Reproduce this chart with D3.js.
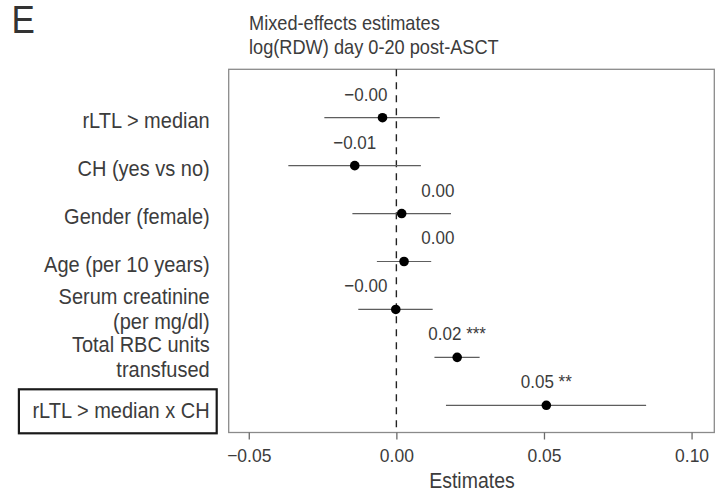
<!DOCTYPE html>
<html>
<head>
<meta charset="utf-8">
<script src="https://cdn.jsdelivr.net/npm/d3@7"></script>
<style>
  html, body { margin: 0; padding: 0; background: #fff; }
  svg text { font-family: "Liberation Sans", Arial, Helvetica, sans-serif; fill: #3c3c3c; }
</style>
</head>
<body>
<svg id="chart" width="719" height="497"></svg>
<script>
// Model terms (top to bottom), estimates with 95% CI, significance stars
const terms = [
  "rLTL > median",
  "CH (yes vs no)",
  "Gender (female)",
  "Age (per 10 years)",
  "Serum creatinine\n(per mg/dl)",
  "Total RBC units\ntransfused",
  "rLTL > median x CH"
];
const estimates = [-0.0047, -0.0141, 0.0018, 0.0026, -0.0002, 0.0206, 0.0508];
const ciLow     = [-0.0244, -0.0366, -0.0149, -0.0066, -0.0129, 0.0129, 0.0168];
const ciHigh    = [ 0.0147,  0.0083,  0.0185,  0.0118,  0.0123, 0.0282, 0.0846];
const stars     = ["", "", "", "", "", "***", "**"];
const boxed     = [false, false, false, false, false, false, true];
const xTicks    = [-0.05, 0.00, 0.05, 0.10];
const titleLines = ["Mixed-effects estimates", "log(RDW) day 0-20 post-ASCT"];

const svg = d3.select("#chart");
const panel = { left: 228.7, right: 714.3, top: 69.3, bottom: 432.5 };
const TEXT_STRETCH = 1.1; // glyphs drawn slightly taller than wide

const x = d3.scaleLinear().domain([-0.0568, 0.1077]).range([panel.left, panel.right]);
const y = d3.scalePoint().domain(terms).range([117.7, 405.3]);

const fmt = v => v.toFixed(2).replace("-", "\u2212");

// Panel letter
svg.append("text").attr("x", 11.5).attr("y", 33)
  .style("font-size", "35px").style("fill", "#333").text("E");

// Title
svg.append("g").selectAll("text").data(titleLines).join("text")
  .attr("x", 249).attr("y", (d, i) => 30.5 + i * 23.5)
  .style("font-size", "18.2px").text(d => d);

// Panel border
svg.append("rect")
  .attr("x", panel.left).attr("y", panel.top)
  .attr("width", panel.right - panel.left).attr("height", panel.bottom - panel.top)
  .attr("fill", "none").attr("stroke", "#8a8a8a").attr("stroke-width", 1.3);

// x axis
const xAxis = svg.append("g").attr("transform", `translate(0,${panel.bottom})`)
  .call(d3.axisBottom(x).tickValues(xTicks).tickFormat(fmt).tickSize(7).tickPadding(10));
xAxis.select(".domain").remove();
xAxis.selectAll(".tick line").attr("stroke", "#6a6a6a").attr("stroke-width", 1.3);
xAxis.selectAll(".tick text").style("font-size", "17.5px")
  .style("font-family", "'Liberation Sans', Arial, sans-serif").attr("fill", "#3c3c3c");

svg.append("text").attr("x", (panel.left + panel.right) / 2 + 0.5).attr("y", 488.3)
  .attr("text-anchor", "middle").style("font-size", "19.5px").text("Estimates");

// Reference line at zero
svg.append("line")
  .attr("x1", x(0)).attr("x2", x(0)).attr("y1", panel.top).attr("y2", panel.bottom)
  .attr("stroke", "#222").attr("stroke-width", 1.4).attr("stroke-dasharray", "7,6");

const rows = terms.map((t, i) => ({
  term: t, est: estimates[i], lo: ciLow[i], hi: ciHigh[i], star: stars[i], boxed: boxed[i]
}));

// Confidence intervals
svg.append("g").selectAll("line").data(rows).join("line")
  .attr("x1", d => x(d.lo)).attr("x2", d => x(d.hi))
  .attr("y1", d => y(d.term)).attr("y2", d => y(d.term))
  .attr("stroke", "#5e5e5e").attr("stroke-width", 1.2);

// Point estimates
svg.append("g").selectAll("circle").data(rows).join("circle")
  .attr("cx", d => x(d.est)).attr("cy", d => y(d.term)).attr("r", 4.8)
  .attr("fill", "#000");

// Value labels, pushed off the reference line when they would cross it
const vl = svg.append("g").selectAll("text").data(rows).join("text")
  .attr("y", d => y(d.term) - 17)
  .style("font-size", "17px")
  .text(d => fmt(d.est) + (d.star ? " " + d.star : ""));
vl.each(function(d) {
  const w = this.getComputedTextLength();
  let left = x(d.est) - w / 2;
  const x0 = x(0);
  if (left < x0 + 2 && left + w > x0 - 2) {
    left = d.est < 0 ? x0 - 9 - w : x0 + 25;
  }
  d3.select(this).attr("x", left);
});

// Term labels (one text element per line)
const labelX = 209.7;
const lineH = 25.5;
const labelLines = rows.flatMap(d => {
  const parts = d.term.split("\n");
  const base = y(d.term) + (d.boxed ? 13 : 10)
    - (parts.length - 1) * lineH / 2 - (parts.length > 1 ? 3 : 0);
  return parts.map((ln, k) => ({ text: ln, y: base + k * lineH, boxed: d.boxed }));
});
const labels = svg.append("g").selectAll("text").data(labelLines).join("text")
  .attr("text-anchor", "end").style("font-size", "20px")
  .attr("x", labelX).attr("y", d => d.y).text(d => d.text);

// Highlight box around the interaction term
labels.filter(d => d.boxed).each(function() {
  const b = this.getBBox();
  svg.append("rect")
    .attr("x", b.x - 13.5).attr("y", b.y - 11)
    .attr("width", b.width + 20.5).attr("height", b.height + 22)
    .attr("fill", "none").attr("stroke", "#1a1a1a").attr("stroke-width", 2.2);
});

// Stretch every glyph vertically about its own baseline
svg.selectAll("text").each(function() {
  const b = this.getBBox();
  const base = b.y + b.height * 0.81;
  const prev = this.getAttribute("transform") || "";
  this.setAttribute("transform",
    `${prev} translate(0,${base}) scale(1,${TEXT_STRETCH}) translate(0,${-base})`);
});
</script>
</body>
</html>
